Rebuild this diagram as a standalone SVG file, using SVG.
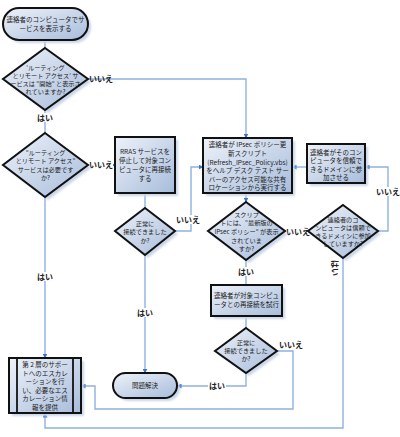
<svg xmlns="http://www.w3.org/2000/svg" width="400" height="437" viewBox="0 0 400 437">
<defs>
<linearGradient id="g" x1="0" y1="0" x2="1" y2="1">
<stop offset="0" stop-color="#eef2f9"/>
<stop offset="1" stop-color="#a7bcdb"/>
</linearGradient>
<filter id="sh" x="-20%" y="-20%" width="150%" height="150%">
<feGaussianBlur stdDeviation="1.2"/>
</filter>
<marker id="ah" viewBox="0 0 10 10" refX="9" refY="5" markerWidth="5" markerHeight="5" orient="auto" markerUnits="userSpaceOnUse">
<path d="M0,0 L10,5 L0,10 z" fill="#3d74c4"/>
</marker>
</defs>
<style>
.s{fill:url(#g);stroke:#111;stroke-width:2}
.sd{fill:#c9d5e8;filter:url(#sh)}
.t{font-family:"Noto Sans CJK JP","Noto Sans",sans-serif;font-size:6.5px;fill:#1a1a1a;text-anchor:middle}
.dt{font-size:6.2px}
.l{font-family:"Noto Sans CJK JP","Noto Sans",sans-serif;font-size:8px;font-weight:bold;fill:#222;text-anchor:middle}
.c{fill:none;stroke:#8fb1e0;stroke-width:1.4}
.a{marker-end:url(#ah)}
.bg{fill:#fff}
</style>
<rect width="400" height="437" fill="#fff"/>

<g id="connectors">
<path class="c" d="M45,40 V48"/>
<path class="c" d="M45,110 V133"/>
<path class="c a" d="M88,79 H246 V138"/>
<path class="c a" d="M88,165 H115"/>
<path class="c a" d="M45,197 V358"/>
<path class="c" d="M145,193 V208"/>
<path class="c a" d="M175,231 H191 V167 H203"/>
<path class="c a" d="M145,255 V373"/>
<path class="c a" d="M246,193 V202"/>
<path class="c" d="M285,231 H308"/>
<path class="c a" d="M378,231 H388 V167 H365"/>
<path class="c a" d="M307,167 H292"/>
<path class="c a" d="M343,258 V428 H45 V413"/>
<path class="c" d="M246,260 V285"/>
<path class="c" d="M246,316 V328"/>
<path class="c a" d="M246,373 V386 H177"/>
<path class="c a" d="M277,351 H293 V409 H95 V386 H81"/>
<g id="labels">
<text class="l" x="101" y="82">いいえ</text>
<rect class="bg" x="36" y="113" width="18" height="9"/>
<text class="l" x="45" y="121">はい</text>
<rect class="bg" x="89" y="160" width="24" height="9"/>
<text class="l" x="101" y="168">いいえ</text>
<rect class="bg" x="36" y="272" width="18" height="9"/>
<text class="l" x="45" y="280">はい</text>
<rect class="bg" x="176" y="215" width="25" height="9"/>
<text class="l" x="188" y="223">いいえ</text>
<rect class="bg" x="136" y="308" width="18" height="9"/>
<text class="l" x="145" y="316">はい</text>
<rect class="bg" x="286" y="227" width="22" height="9"/>
<text class="l" x="298" y="235">いいえ</text>
<rect class="bg" x="375" y="187" width="25" height="9"/>
<text class="l" x="388" y="195">いいえ</text>
<text class="l" transform="translate(335,268) rotate(90)" x="0" y="3">はい</text>
<rect class="bg" x="237" y="267" width="18" height="9"/>
<text class="l" x="246" y="275">はい</text>
<text class="l" x="291" y="348">いいえ</text>
<rect class="bg" x="208" y="381" width="18" height="9"/>
<text class="l" x="217" y="389">はい</text>
</g>
</g>

<g id="start">
<rect class="sd" x="6" y="11" width="85" height="32" rx="16"/>
<rect class="s" x="3" y="8" width="85" height="32" rx="16"/>
<text class="t"><tspan x="45.5" y="22">連絡者のコンピュータでサ</tspan><tspan x="45.5" y="31">ービスを表示する</tspan></text>
</g>

<g id="d1">
<polygon class="sd" points="48,51 91,82 48,113 6,82"/>
<polygon class="s" points="45,48 88,79 45,110 3,79"/>
<text class="t dt"><tspan x="45.5" y="70">'ルーティング</tspan><tspan x="45.5" y="78">とリモート アクセス' サ</tspan><tspan x="45.5" y="86">ービスは "開始" と表示さ</tspan><tspan x="45.5" y="93.5">れていますか?</tspan></text>
</g>

<g id="d2">
<polygon class="sd" points="48,136 91,168 48,200 6,168"/>
<polygon class="s" points="45,133 88,165 45,197 3,165"/>
<text class="t dt"><tspan x="45.5" y="155">"ルーティング</tspan><tspan x="45.5" y="163">とリモート アクセス"</tspan><tspan x="45.5" y="171.5">サービスは必要です</tspan><tspan x="45.5" y="180">か?</tspan></text>
</g>

<g id="rras">
<rect class="sd" x="118" y="140" width="60" height="56"/>
<rect class="s" x="115" y="137" width="60" height="56"/>
<text class="t"><tspan x="145" y="154">RRAS サービスを</tspan><tspan x="145" y="163">停止して対象コン</tspan><tspan x="145" y="172">ピュータに再接続</tspan><tspan x="145" y="181">する</tspan></text>
</g>

<g id="d3">
<polygon class="sd" points="148,211 178,234 148,258 118,234"/>
<polygon class="s" points="145,208 175,231 145,255 115,231"/>
<text class="t dt"><tspan x="145" y="226">正常に</tspan><tspan x="145" y="234">接続できました</tspan><tspan x="145" y="243">か?</tspan></text>
</g>

<g id="resolved">
<rect class="sd" x="116" y="376" width="64" height="25" rx="12.5"/>
<rect class="s" x="113" y="373" width="64" height="25" rx="12.5"/>
<text class="t" x="145" y="388">問題解決</text>
</g>

<g id="ipsec">
<rect class="sd" x="206" y="141" width="89" height="55"/>
<rect class="s" x="203" y="138" width="89" height="55"/>
<text class="t"><tspan x="247.5" y="147">連絡者が IPsec ポリシー更</tspan><tspan x="247.5" y="156">新スクリプト</tspan><tspan x="247.5" y="164.5">(Refresh_IPsec_Policy.vbs)</tspan><tspan x="247.5" y="173">をヘルプ デスク テスト サー</tspan><tspan x="247.5" y="181.5">バーのアクセス可能な共有</tspan><tspan x="247.5" y="190">ロケーションから実行する</tspan></text>
</g>

<g id="d4">
<polygon class="sd" points="249,205 288,234 249,263 211,234"/>
<polygon class="s" points="246,202 285,231 246,260 208,231"/>
<text class="t dt"><tspan x="246.5" y="217">スクリプ</tspan><tspan x="246.5" y="225">トには、"最新版の</tspan><tspan x="246.5" y="234">IPsec ポリシー" が表示</tspan><tspan x="246.5" y="243">されていま</tspan><tspan x="246.5" y="251">すか?</tspan></text>
</g>

<g id="join">
<rect class="sd" x="310" y="147" width="58" height="39"/>
<rect class="s" x="307" y="144" width="58" height="39"/>
<text class="t"><tspan x="336" y="154.5">連絡者がそのコン</tspan><tspan x="336" y="163">ピュータを信頼で</tspan><tspan x="336" y="171.5">きるドメインに参</tspan><tspan x="336" y="180">加させる</tspan></text>
</g>

<g id="d6">
<polygon class="sd" points="346,208 381,234 346,261 311,234"/>
<polygon class="s" points="343,205 378,231 343,258 308,231"/>
<text class="t dt"><tspan x="343" y="222">連絡者のコ</tspan><tspan x="343" y="230">ンピュータは信頼で</tspan><tspan x="343" y="238">きるドメインに参加</tspan><tspan x="343" y="246">していますか?</tspan></text>
</g>

<g id="reconnect">
<rect class="sd" x="214" y="288" width="71" height="31"/>
<rect class="s" x="211" y="285" width="71" height="31"/>
<text class="t"><tspan x="246.5" y="298">連絡者が対象コンピュ</tspan><tspan x="246.5" y="307">ータとの再接続を試行</tspan></text>
</g>

<g id="d5">
<polygon class="sd" points="249,331 280,354 249,376 218,354"/>
<polygon class="s" points="246,328 277,351 246,373 215,351"/>
<text class="t dt"><tspan x="246" y="345">正常に</tspan><tspan x="246" y="353">接続できました</tspan><tspan x="246" y="361">か?</tspan></text>
</g>

<g id="escalate">
<rect class="sd" x="12" y="361" width="72" height="55"/>
<rect class="s" x="9" y="358" width="72" height="55"/>
<line x1="17" y1="358" x2="17" y2="413" stroke="#111" stroke-width="1.8"/>
<line x1="73" y1="358" x2="73" y2="413" stroke="#111" stroke-width="1.8"/>
<text class="t"><tspan x="45" y="367">第 2 層のサポー</tspan><tspan x="45" y="375.5">トへのエスカレ</tspan><tspan x="45" y="384">ーションを行</tspan><tspan x="45" y="392.5">い、必要なエス</tspan><tspan x="45" y="401">カレーション情</tspan><tspan x="45" y="409.5">報を提供</tspan></text>
</g>
</svg>
